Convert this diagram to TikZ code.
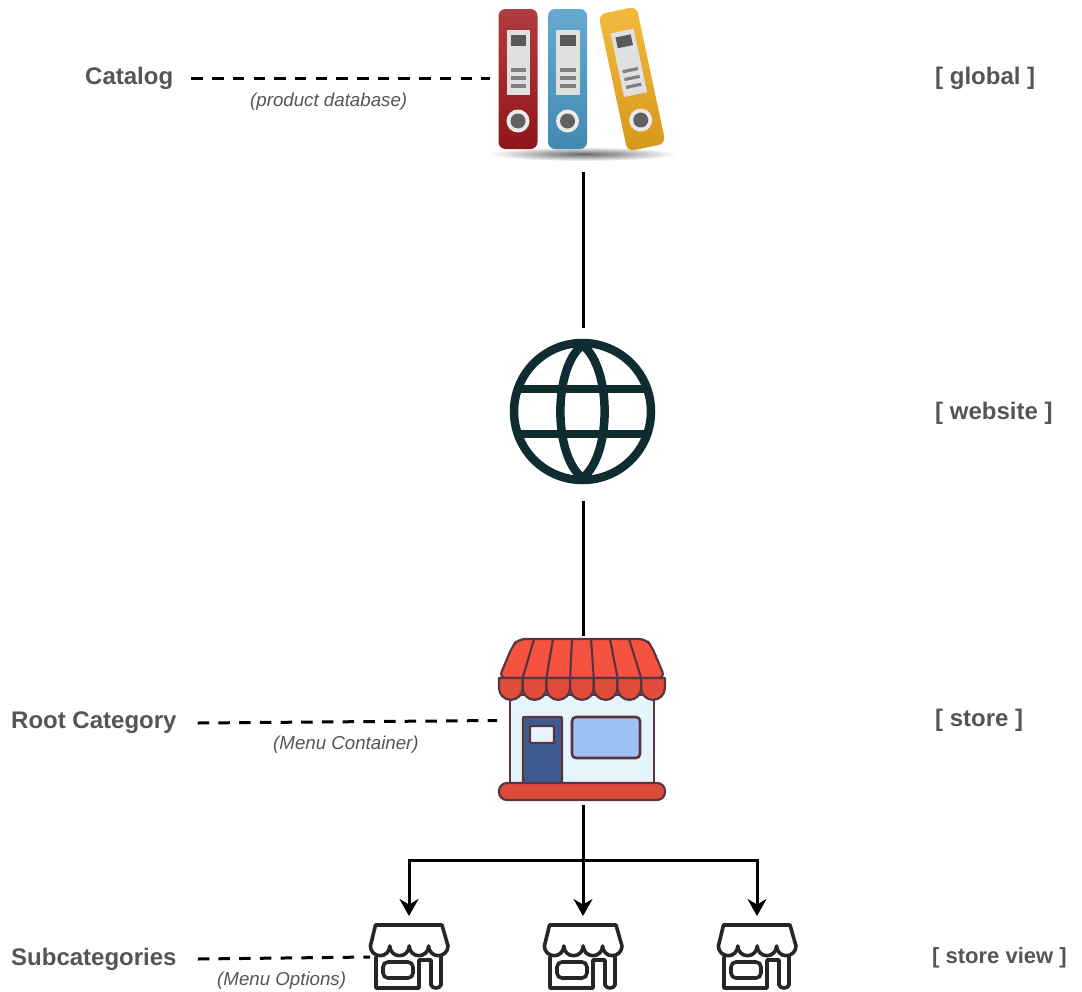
\documentclass[tikz,border=0pt]{standalone}
\usepackage{fontspec}
\setmainfont{Liberation Sans}
\usetikzlibrary{arrows.meta, positioning}

\definecolor{labelgray}{HTML}{555555}
\definecolor{globeink}{HTML}{0F2C30}
\definecolor{shopink}{HTML}{5A3440}
\definecolor{awningred}{HTML}{F5533F}
\definecolor{doorblue}{HTML}{3F5A8F}
\definecolor{glassblue}{HTML}{9DC3F5}
\definecolor{wallblue}{HTML}{E6F4FC}
\definecolor{binderred}{HTML}{A31A1E}
\definecolor{binderblue}{HTML}{4A9CC9}
\definecolor{binderyellow}{HTML}{F2AE1C}

\tikzset{
  main label/.style={font=\bfseries\fontsize{24}{28}\selectfont,text=labelgray,inner sep=0pt},
  note label/.style={font=\itshape\fontsize{18.7}{22}\selectfont,text=labelgray,inner sep=0pt},
  icon box/.style={inner sep=0pt,outer sep=0pt},
  dash link/.style={line width=3pt,dash pattern=on 11.5pt off 9.2pt},
  tree link/.style={line width=3pt},
  tree arrow/.style={line width=3pt,-{Stealth[length=17pt,width=19pt]}},
  binder/.pic={
    \shade[top color=#1!85!white,bottom color=#1!88!black,rounded corners=7pt] (-19.5,-70) rectangle (19.5,70);
    \fill[black!12] (-11.5,-49) rectangle (12,16);
    \fill[black!65] (-7.5,-44) rectangle (8,-33);
    \foreach \y in {-9,-1,7}
      \fill[black!50] (-7.5,\y-1.6) rectangle (8,\y+1.6);
    \fill[black!8] (0,42) circle (11.5);
    \fill[black!62] (0,42) circle (7.5);
  },
  shop view/.pic={
    \draw[line width=3.6pt,black!85,line join=round,line cap=round]
      (-33,5) -- (-33,36) -- (10,36) -- (10,8) -- (22,8) -- (22,33)
      .. controls (23,37) and (31,37) .. (32,33) -- (32,5);
    \draw[line width=3.6pt,black!85,line join=round,fill=white]
      (-33.5,-27) -- (33,-27) -- (39,-6)
      arc[start angle=0,end angle=180,radius=9.7]
      arc[start angle=0,end angle=180,radius=9.7]
      arc[start angle=0,end angle=180,radius=9.7]
      arc[start angle=0,end angle=180,radius=9.7] -- cycle;
    \draw[line width=3.6pt,black!85,rounded corners=5pt] (-26,10) rectangle (4,26);
  }
}

\begin{document}
\begin{tikzpicture}[x=1pt,y=-1pt]
  \useasboundingbox (0,0) rectangle (1082,991);

  % icon boxes the links end on
  \node[icon box,minimum width=186pt,minimum height=172pt] (catalog) at (583,86) {};
  \node[icon box,circle,minimum size=173pt] (website) at (583,414) {};
  \node[icon box,minimum width=172pt,minimum height=169pt] (store) at (583,720.5) {};
  \node[icon box,minimum width=78pt,minimum height=82pt] (viewa) at (409,957) {};
  \node[icon box,minimum width=78pt,minimum height=82pt] (viewb) at (583,957) {};
  \node[icon box,minimum width=78pt,minimum height=82pt] (viewc) at (757,957) {};

  % binders
  \shade[inner color=black!60,outer color=white] (583,154) ellipse (94 and 7);
  \pic at (518,79) {binder=binderred};
  \pic at (567.5,79) {binder=binderblue};
  \pic[rotate=12] at (632,79) {binder=binderyellow};

  % globe
  \begin{scope}[line width=8.5pt,globeink,line join=round]
    \draw (582.5,411.5) circle (68.5);
    \draw (582.5,345) .. controls (553,368) and (553,455) .. (582.5,478)
      .. controls (612,455) and (612,368) .. cycle;
    \draw (519,389) -- (646,389);
    \draw (519,434) -- (646,434);
  \end{scope}

  % store
  \begin{scope}[shopink,line width=2.2pt,line join=round]
    \draw[fill=wallblue] (510,695) rectangle (654,788);
    \draw[fill=doorblue,rounded corners=1pt] (523,717) rectangle (562,785);
    \draw[fill=wallblue,rounded corners=1pt] (530,726) rectangle (554,743);
    \draw[fill=glassblue,rounded corners=4pt,line width=2.6pt] (572,717) rectangle (640,758);
    \draw[fill=awningred,rounded corners=7pt] (499,678) -- (512,647) -- (518,639) -- (646,639) -- (652,647) -- (665,678) -- cycle;
    \foreach \i in {0,...,6} {
      \draw[fill=awningred!92!black] ({499+\i*23.7},678) -- ++(0,10)
        arc[start angle=180,end angle=0,radius=11.85] -- ++(0,-10) -- cycle;
    }
    \foreach \t/\b in {534/522.7,553/546.4,572/570.1,591/593.8,610/617.5,629/641.2}
      \draw (\t,639) -- (\b,678);
    \draw[fill=awningred!90!black,rounded corners=8pt] (499,783) rectangle (665,800);
  \end{scope}

  % store views
  \pic at (409,952) {shop view};
  \pic at (583,952) {shop view};
  \pic at (757,952) {shop view};

  % left labels
  \node[main label,anchor=west] (catalogtxt) at (85,78) {Catalog};
  \node[main label,anchor=west] (roottxt) at (11,723) {Root Category};
  \node[main label,anchor=west] (subtxt) at (11,959) {Subcategories};
  \node[note label,anchor=west] (catalognote) at (250,102) {(product database)};
  \node[note label,anchor=west] (rootnote) at (273,745) {(Menu Container)};
  \node[note label,anchor=west] (subnote) at (217,981) {(Menu Options)};

  % right labels
  \node[main label,anchor=west] (globaltxt) at (935,78) {[ global ]};
  \node[main label,anchor=west] (websitetxt) at (935,413) {[ website ]};
  \node[main label,anchor=west] (storetxt) at (935,720) {[ store ]};
  \node[main label,anchor=west,font=\bfseries\fontsize{22}{26}\selectfont] (viewtxt) at (932,958) {[ store view ]};

  % links
  \draw[dash link] ([xshift=18pt]catalogtxt.east) -- (catalog.west |- catalogtxt);
  \draw[dash link] ([xshift=21pt]roottxt.east) -- (store.west);
  \draw[dash link] ([xshift=21pt]subtxt.east) -- (viewa.west);
  \draw[tree link] (catalog) -- (website);
  \draw[tree link] (website) -- (store);
  \coordinate (fork) at (583,860);
  \draw[tree link] (store) -- (fork);
  \draw[tree arrow] (fork) -- (viewb.north -| fork);
  \draw[tree arrow] (fork) -| (viewa.north);
  \draw[tree arrow] (fork) -| (viewc.north);
\end{tikzpicture}
\end{document}
